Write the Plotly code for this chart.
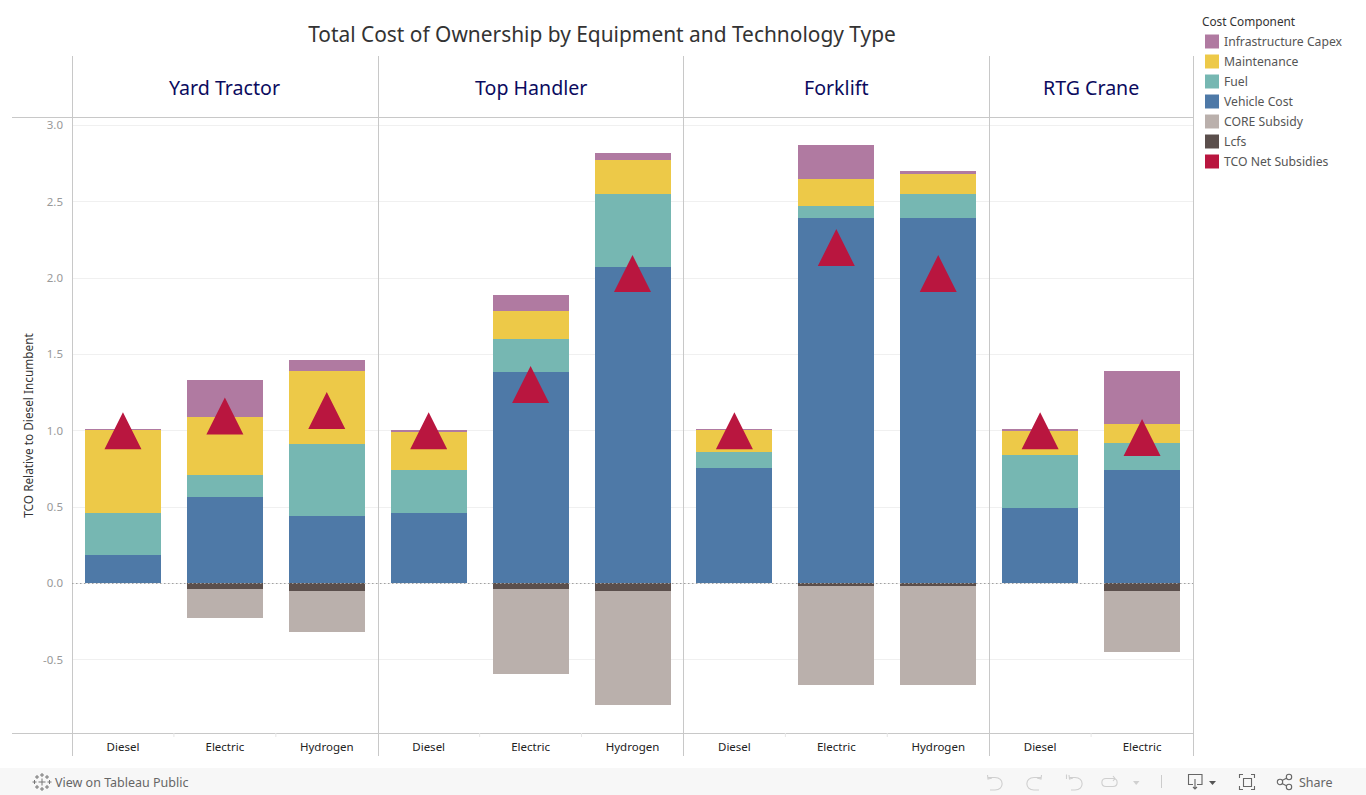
import plotly.graph_objects as go

W, H = 1366, 795
L, R, T, B = 72, 1193, 118, 733

equipment = ["Yard Tractor", "Top Handler", "Forklift", "RTG Crane"]
tech_counts = [3, 3, 3, 2]
technologies = ["Diesel", "Electric", "Hydrogen", "Diesel", "Electric", "Hydrogen",
                "Diesel", "Electric", "Hydrogen", "Diesel", "Electric"]
positions = list(range(len(technologies)))

vehicle_cost = [0.187, 0.567, 0.44, 0.46, 1.385, 2.073, 0.757, 2.394, 2.394, 0.495, 0.743]
fuel = [0.273, 0.143, 0.474, 0.283, 0.215, 0.477, 0.104, 0.079, 0.156, 0.347, 0.177]
maintenance = [0.545, 0.38, 0.476, 0.255, 0.185, 0.224, 0.144, 0.177, 0.132, 0.157, 0.125]
infrastructure = [0.005, 0.243, 0.074, 0.007, 0.105, 0.046, 0.005, 0.222, 0.018, 0.006, 0.347]
lcfs = [0, -0.036, -0.05, 0, -0.036, -0.05, 0, -0.016, -0.016, 0, -0.05]
core_subsidy = [0, -0.19, -0.268, 0, -0.557, -0.746, 0, -0.649, -0.649, 0, -0.399]
tco_net = [1.0, 1.097, 1.133, 1.0, 1.303, 2.03, 1.0, 2.2, 2.03, 1.0, 0.956]

legend_names = ["Infrastructure Capex", "Maintenance", "Fuel", "Vehicle Cost",
                "CORE Subsidy", "Lcfs", "TCO Net Subsidies"]
legend_colors = ["#b07aa1", "#edc948", "#76b7b2", "#4e79a7", "#bab0ac", "#5b4f4c", "#b9163f"]
color = dict(zip(legend_names, legend_colors))

y_ticks = [-0.5, 0, 0.5, 1, 1.5, 2, 2.5, 3]
y_tick_text = ["-0.5", "0.0", "0.5", "1.0", "1.5", "2.0", "2.5", "3.0"]

FONT = "Noto Sans"
PW, PH = R - L, B - T
PX_PER_UNIT = 152.67
ZERO_PX = 583.4
X = lambda px: (px - L) / PW
Y = lambda py: (B - py) / PH
y_top = (ZERO_PX - T) / PX_PER_UNIT
y_bot = (ZERO_PX - B) / PX_PER_UNIT

fig = go.Figure()
for name, vals in [("Vehicle Cost", vehicle_cost), ("Fuel", fuel), ("Maintenance", maintenance),
                   ("Infrastructure Capex", infrastructure), ("Lcfs", lcfs), ("CORE Subsidy", core_subsidy)]:
    fig.add_bar(x=positions, y=vals, name=name, width=76 / 101.9, marker=dict(color=color[name], line_width=0),
                showlegend=False)

# triangles: one closed outline per point, centred on the value
tri_x, tri_y = [], []
hw, hh = 18.5 / 101.9, 18.5 / PX_PER_UNIT
for p, v in zip(positions, tco_net):
    tri_x += [p - hw, p + hw, p, p - hw, None]
    tri_y += [v - hh, v - hh, v + hh, v - hh, None]
fig.add_scatter(x=tri_x, y=tri_y, mode="lines", fill="toself", fillcolor=color["TCO Net Subsidies"],
                line=dict(width=0, color=color["TCO Net Subsidies"]), name="TCO Net Subsidies",
                showlegend=False)

shapes, ann = [], []
LINE = "#c8c8c8"


def pline(x0, y0, x1, y1, c=LINE, w=1, dash=None, layer="above"):
    shapes.append(dict(type="line", xref="paper", yref="paper", x0=X(x0), x1=X(x1), y0=Y(y0), y1=Y(y1),
                       line=dict(color=c, width=w, dash=dash), layer=layer))


def ppath(d, c="#a8a8a8", w=1.1):
    out = []
    for tok in d.split():
        if "," in tok:
            a, b = tok.split(",")
            out.append(f"{X(float(a)):.5f},{Y(float(b)):.5f}")
        else:
            out.append(tok)
    shapes.append(dict(type="path", xref="paper", yref="paper", path=" ".join(out),
                       line=dict(color=c, width=w), layer="above"))


def pcircle(cx, cy, r, c):
    shapes.append(dict(type="circle", xref="paper", yref="paper", x0=X(cx - r), x1=X(cx + r), y0=Y(cy - r), y1=Y(cy + r),
                       line=dict(color=c, width=1.1), layer="above"))


def ptext(px, py, text, size, c, anchor="left", fam=FONT):
    ann.append(dict(xref="paper", yref="paper", x=X(px), y=Y(py), text=text, showarrow=False,
                    xanchor=anchor, yanchor="middle", font=dict(family=fam, size=size, color=c)))


# frame
pline(12, 117.5, R + 0.5, 117.5)
pline(12, 733.5, R + 0.5, 733.5)
pline(72.5, 56, 72.5, 756)
panel_edges = [378.5, 683.5, 989.5, 1193.5]
start = 0
for eq, n, edge in zip(equipment, tech_counts, panel_edges):
    pline(edge, 56, edge, 756)
    centre = start + (n - 1) / 2
    ann.append(dict(xref="x", yref="paper", x=centre, y=Y(87), text=eq, showarrow=False, xanchor="center",
                    yanchor="middle", font=dict(family=FONT, size=19.6, color="#0b0b5e")))
    for k in range(1, n):
        tx = L + (start + k) * PW / 11
        pline(tx, 733, tx, 737, "#e6e6e6")
    start += n

# zero line: dotted, drawn over the bars' base
pline(L, 583.5, R, 583.5, "#a0a0a0", 1, "1.5px,2.5px")

# legend
ptext(1200, 21.5, "Cost Component", 11.8, "#333333")
for i, (n, c) in enumerate(zip(legend_names, legend_colors)):
    yc = 41.5 + 20 * i
    shapes.append(dict(type="rect", xref="paper", yref="paper", x0=X(1205), x1=X(1219), y0=Y(yc - 7), y1=Y(yc + 7),
                       fillcolor=c, line_width=0))
    ptext(1222, yc, n, 12.2, "#555555")

# footer
shapes.insert(0, dict(type="rect", xref="paper", yref="paper", x0=X(0), x1=X(W), y0=Y(768), y1=Y(795),
                      fillcolor="#f7f7f7", line_width=0, layer="below"))
ptext(53, 782, "View on Tableau Public", 12.5, "#666666")
ptext(1297, 782, "Share", 12.5, "#666666")
for dx, dy, s in [(42, 782, 3.5), (42, 775, 2), (42, 789, 2), (34.5, 782, 2), (49.5, 782, 2),
                  (37, 777, 2), (47, 777, 2), (37, 787, 2), (47, 787, 2)]:
    pline(dx - s, dy, dx + s, dy, "#777777", 1)
    pline(dx, dy - s, dx, dy + s, "#777777", 1)
G = "#cfcfcf"
ppath("M 987.5,775 L 988,779 L 992,778 M 988,777.5 L 995,777.5 C 1004.5,777.5 1004.5,790 995,790 L 990,790", G)
ppath("M 1041.5,775 L 1041,779 L 1037,778 M 1041,777.5 L 1034,777.5 C 1024.5,777.5 1024.5,790 1034,790 L 1039,790", G)
ppath("M 1066.5,774.5 L 1066.5,779 M 1069,775 L 1069.5,779 L 1073,778 M 1069.5,777.5 L 1075,777.5 C 1084.5,777.5 1084.5,790 1075,790 L 1071,790", G)
ppath("M 1106,778.5 L 1113,778.5 C 1118.5,778.5 1118.5,786.5 1113,786.5 L 1106,786.5 C 1100.5,786.5 1100.5,778.5 1106,778.5 Z M 1113,776 L 1115,778.5 L 1113,781", G)
shapes.append(dict(type="path", xref="paper", yref="paper",
                   path=f"M {X(1133):.5f},{Y(781):.5f} L {X(1139.5):.5f},{Y(781):.5f} L {X(1136.2):.5f},{Y(785):.5f} Z",
                   fillcolor="#d0d0d0", line_width=0))
pline(1161.5, 775, 1161.5, 788, "#cccccc")
ppath("M 1193,784.5 L 1188.5,784.5 L 1188.5,774.5 L 1202,774.5 L 1202,784.5 L 1197,784.5 M 1195,779 L 1195,789 M 1193,787 L 1195,789 L 1197,787", "#666666")
shapes.append(dict(type="path", xref="paper", yref="paper",
                   path=f"M {X(1209):.5f},{Y(781):.5f} L {X(1216):.5f},{Y(781):.5f} L {X(1212.5):.5f},{Y(785):.5f} Z",
                   fillcolor="#555555", line_width=0))
ppath("M 1239.5,778 L 1239.5,774.5 L 1243,774.5 M 1251,774.5 L 1254.5,774.5 L 1254.5,778 M 1254.5,786 L 1254.5,789.5 L 1251,789.5 M 1243,789.5 L 1239.5,789.5 L 1239.5,786", "#666666")
ppath("M 1243.5,778.5 L 1251.5,778.5 L 1251.5,786.5 L 1243.5,786.5 Z", "#666666")
ppath("M 1282,780.5 L 1287,778 M 1282,783.5 L 1287,786", "#666666")
pcircle(1280, 782, 2.7, "#666666")
pcircle(1289, 777, 2.7, "#666666")
pcircle(1289, 787, 2.7, "#666666")

fig.update_layout(
    width=W, height=H, autosize=False, barmode="relative", bargap=0,
    margin=dict(l=L, r=W - R, t=T, b=H - B, pad=0),
    paper_bgcolor="white", plot_bgcolor="white", showlegend=False,
    font=dict(family=FONT),
    title=dict(text="Total Cost of Ownership by Equipment and Technology Type", xref="paper", x=X(602), xanchor="center",
               yref="container", y=1 - 34.5 / H, yanchor="middle", font=dict(family=FONT, size=20.9, color="#333333")),
    xaxis=dict(range=[-0.5, 10.5], tickmode="array", tickvals=positions, ticktext=technologies, showgrid=False,
               zeroline=False, showline=False, ticks="", ticklabelstandoff=5,
               tickfont=dict(family=FONT, size=11.5, color="#222222")),
    yaxis=dict(range=[y_bot, y_top], tickmode="array", tickvals=y_ticks, ticktext=y_tick_text, gridcolor="#f0f0f0",
               gridwidth=1, zeroline=False, showline=False, ticks="", ticklabelstandoff=8,
               tickfont=dict(family=FONT, size=11.5, color="#999999"),
               title=dict(text="TCO Relative to Diesel Incumbent", standoff=6, font=dict(family=FONT, size=11.8, color="#333333"))),
    shapes=shapes, annotations=ann,
)
fig.write_html("out.html", config={"displayModeBar": False}, post_script="document.body.style.margin='0';")
